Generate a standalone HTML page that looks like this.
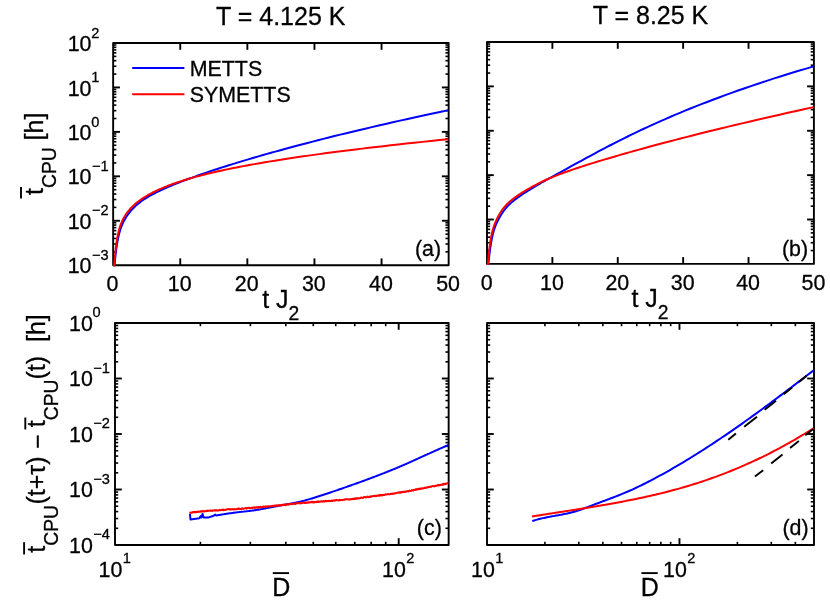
<!DOCTYPE html>
<html><head><meta charset="utf-8"><title>figure</title>
<style>html,body{margin:0;padding:0;background:#fff;}svg{display:block;}text{font-family:"Liberation Sans",sans-serif;white-space:pre;}</style></head>
<body>
<svg width="830" height="606" viewBox="0 0 830 606" font-family='"Liberation Sans", sans-serif' fill="#000">
<rect width="830" height="606" fill="#fff"/>
<rect x="113.15" y="43" width="335.5" height="222.2" fill="none" stroke="#000" stroke-width="1.9" stroke-linejoin="round"/>
<rect x="487" y="42" width="326.9" height="221.9" fill="none" stroke="#000" stroke-width="1.9" stroke-linejoin="round"/>
<rect x="115" y="323" width="333.65" height="222" fill="none" stroke="#000" stroke-width="1.9" stroke-linejoin="round"/>
<rect x="487" y="323" width="327" height="222" fill="none" stroke="#000" stroke-width="1.9" stroke-linejoin="round"/>
<line x1="113.15" y1="251.82" x2="116.35" y2="251.82" stroke="#000" stroke-width="1.6" />
<line x1="448.65" y1="251.82" x2="445.45" y2="251.82" stroke="#000" stroke-width="1.6" />
<line x1="113.15" y1="244" x2="116.35" y2="244" stroke="#000" stroke-width="1.6" />
<line x1="448.65" y1="244" x2="445.45" y2="244" stroke="#000" stroke-width="1.6" />
<line x1="113.15" y1="238.44" x2="116.35" y2="238.44" stroke="#000" stroke-width="1.6" />
<line x1="448.65" y1="238.44" x2="445.45" y2="238.44" stroke="#000" stroke-width="1.6" />
<line x1="113.15" y1="234.14" x2="116.35" y2="234.14" stroke="#000" stroke-width="1.6" />
<line x1="448.65" y1="234.14" x2="445.45" y2="234.14" stroke="#000" stroke-width="1.6" />
<line x1="113.15" y1="230.62" x2="116.35" y2="230.62" stroke="#000" stroke-width="1.6" />
<line x1="448.65" y1="230.62" x2="445.45" y2="230.62" stroke="#000" stroke-width="1.6" />
<line x1="113.15" y1="227.64" x2="116.35" y2="227.64" stroke="#000" stroke-width="1.6" />
<line x1="448.65" y1="227.64" x2="445.45" y2="227.64" stroke="#000" stroke-width="1.6" />
<line x1="113.15" y1="225.07" x2="116.35" y2="225.07" stroke="#000" stroke-width="1.6" />
<line x1="448.65" y1="225.07" x2="445.45" y2="225.07" stroke="#000" stroke-width="1.6" />
<line x1="113.15" y1="222.79" x2="116.35" y2="222.79" stroke="#000" stroke-width="1.6" />
<line x1="448.65" y1="222.79" x2="445.45" y2="222.79" stroke="#000" stroke-width="1.6" />
<line x1="113.15" y1="220.76" x2="119.95" y2="220.76" stroke="#000" stroke-width="1.9" />
<line x1="448.65" y1="220.76" x2="441.85" y2="220.76" stroke="#000" stroke-width="1.9" />
<line x1="113.15" y1="207.38" x2="116.35" y2="207.38" stroke="#000" stroke-width="1.6" />
<line x1="448.65" y1="207.38" x2="445.45" y2="207.38" stroke="#000" stroke-width="1.6" />
<line x1="113.15" y1="199.56" x2="116.35" y2="199.56" stroke="#000" stroke-width="1.6" />
<line x1="448.65" y1="199.56" x2="445.45" y2="199.56" stroke="#000" stroke-width="1.6" />
<line x1="113.15" y1="194" x2="116.35" y2="194" stroke="#000" stroke-width="1.6" />
<line x1="448.65" y1="194" x2="445.45" y2="194" stroke="#000" stroke-width="1.6" />
<line x1="113.15" y1="189.7" x2="116.35" y2="189.7" stroke="#000" stroke-width="1.6" />
<line x1="448.65" y1="189.7" x2="445.45" y2="189.7" stroke="#000" stroke-width="1.6" />
<line x1="113.15" y1="186.18" x2="116.35" y2="186.18" stroke="#000" stroke-width="1.6" />
<line x1="448.65" y1="186.18" x2="445.45" y2="186.18" stroke="#000" stroke-width="1.6" />
<line x1="113.15" y1="183.2" x2="116.35" y2="183.2" stroke="#000" stroke-width="1.6" />
<line x1="448.65" y1="183.2" x2="445.45" y2="183.2" stroke="#000" stroke-width="1.6" />
<line x1="113.15" y1="180.63" x2="116.35" y2="180.63" stroke="#000" stroke-width="1.6" />
<line x1="448.65" y1="180.63" x2="445.45" y2="180.63" stroke="#000" stroke-width="1.6" />
<line x1="113.15" y1="178.35" x2="116.35" y2="178.35" stroke="#000" stroke-width="1.6" />
<line x1="448.65" y1="178.35" x2="445.45" y2="178.35" stroke="#000" stroke-width="1.6" />
<line x1="113.15" y1="176.32" x2="119.95" y2="176.32" stroke="#000" stroke-width="1.9" />
<line x1="448.65" y1="176.32" x2="441.85" y2="176.32" stroke="#000" stroke-width="1.9" />
<line x1="113.15" y1="162.94" x2="116.35" y2="162.94" stroke="#000" stroke-width="1.6" />
<line x1="448.65" y1="162.94" x2="445.45" y2="162.94" stroke="#000" stroke-width="1.6" />
<line x1="113.15" y1="155.12" x2="116.35" y2="155.12" stroke="#000" stroke-width="1.6" />
<line x1="448.65" y1="155.12" x2="445.45" y2="155.12" stroke="#000" stroke-width="1.6" />
<line x1="113.15" y1="149.56" x2="116.35" y2="149.56" stroke="#000" stroke-width="1.6" />
<line x1="448.65" y1="149.56" x2="445.45" y2="149.56" stroke="#000" stroke-width="1.6" />
<line x1="113.15" y1="145.26" x2="116.35" y2="145.26" stroke="#000" stroke-width="1.6" />
<line x1="448.65" y1="145.26" x2="445.45" y2="145.26" stroke="#000" stroke-width="1.6" />
<line x1="113.15" y1="141.74" x2="116.35" y2="141.74" stroke="#000" stroke-width="1.6" />
<line x1="448.65" y1="141.74" x2="445.45" y2="141.74" stroke="#000" stroke-width="1.6" />
<line x1="113.15" y1="138.76" x2="116.35" y2="138.76" stroke="#000" stroke-width="1.6" />
<line x1="448.65" y1="138.76" x2="445.45" y2="138.76" stroke="#000" stroke-width="1.6" />
<line x1="113.15" y1="136.19" x2="116.35" y2="136.19" stroke="#000" stroke-width="1.6" />
<line x1="448.65" y1="136.19" x2="445.45" y2="136.19" stroke="#000" stroke-width="1.6" />
<line x1="113.15" y1="133.91" x2="116.35" y2="133.91" stroke="#000" stroke-width="1.6" />
<line x1="448.65" y1="133.91" x2="445.45" y2="133.91" stroke="#000" stroke-width="1.6" />
<line x1="113.15" y1="131.88" x2="119.95" y2="131.88" stroke="#000" stroke-width="1.9" />
<line x1="448.65" y1="131.88" x2="441.85" y2="131.88" stroke="#000" stroke-width="1.9" />
<line x1="113.15" y1="118.5" x2="116.35" y2="118.5" stroke="#000" stroke-width="1.6" />
<line x1="448.65" y1="118.5" x2="445.45" y2="118.5" stroke="#000" stroke-width="1.6" />
<line x1="113.15" y1="110.68" x2="116.35" y2="110.68" stroke="#000" stroke-width="1.6" />
<line x1="448.65" y1="110.68" x2="445.45" y2="110.68" stroke="#000" stroke-width="1.6" />
<line x1="113.15" y1="105.12" x2="116.35" y2="105.12" stroke="#000" stroke-width="1.6" />
<line x1="448.65" y1="105.12" x2="445.45" y2="105.12" stroke="#000" stroke-width="1.6" />
<line x1="113.15" y1="100.82" x2="116.35" y2="100.82" stroke="#000" stroke-width="1.6" />
<line x1="448.65" y1="100.82" x2="445.45" y2="100.82" stroke="#000" stroke-width="1.6" />
<line x1="113.15" y1="97.3" x2="116.35" y2="97.3" stroke="#000" stroke-width="1.6" />
<line x1="448.65" y1="97.3" x2="445.45" y2="97.3" stroke="#000" stroke-width="1.6" />
<line x1="113.15" y1="94.32" x2="116.35" y2="94.32" stroke="#000" stroke-width="1.6" />
<line x1="448.65" y1="94.32" x2="445.45" y2="94.32" stroke="#000" stroke-width="1.6" />
<line x1="113.15" y1="91.75" x2="116.35" y2="91.75" stroke="#000" stroke-width="1.6" />
<line x1="448.65" y1="91.75" x2="445.45" y2="91.75" stroke="#000" stroke-width="1.6" />
<line x1="113.15" y1="89.47" x2="116.35" y2="89.47" stroke="#000" stroke-width="1.6" />
<line x1="448.65" y1="89.47" x2="445.45" y2="89.47" stroke="#000" stroke-width="1.6" />
<line x1="113.15" y1="87.44" x2="119.95" y2="87.44" stroke="#000" stroke-width="1.9" />
<line x1="448.65" y1="87.44" x2="441.85" y2="87.44" stroke="#000" stroke-width="1.9" />
<line x1="113.15" y1="74.06" x2="116.35" y2="74.06" stroke="#000" stroke-width="1.6" />
<line x1="448.65" y1="74.06" x2="445.45" y2="74.06" stroke="#000" stroke-width="1.6" />
<line x1="113.15" y1="66.24" x2="116.35" y2="66.24" stroke="#000" stroke-width="1.6" />
<line x1="448.65" y1="66.24" x2="445.45" y2="66.24" stroke="#000" stroke-width="1.6" />
<line x1="113.15" y1="60.68" x2="116.35" y2="60.68" stroke="#000" stroke-width="1.6" />
<line x1="448.65" y1="60.68" x2="445.45" y2="60.68" stroke="#000" stroke-width="1.6" />
<line x1="113.15" y1="56.38" x2="116.35" y2="56.38" stroke="#000" stroke-width="1.6" />
<line x1="448.65" y1="56.38" x2="445.45" y2="56.38" stroke="#000" stroke-width="1.6" />
<line x1="113.15" y1="52.86" x2="116.35" y2="52.86" stroke="#000" stroke-width="1.6" />
<line x1="448.65" y1="52.86" x2="445.45" y2="52.86" stroke="#000" stroke-width="1.6" />
<line x1="113.15" y1="49.88" x2="116.35" y2="49.88" stroke="#000" stroke-width="1.6" />
<line x1="448.65" y1="49.88" x2="445.45" y2="49.88" stroke="#000" stroke-width="1.6" />
<line x1="113.15" y1="47.31" x2="116.35" y2="47.31" stroke="#000" stroke-width="1.6" />
<line x1="448.65" y1="47.31" x2="445.45" y2="47.31" stroke="#000" stroke-width="1.6" />
<line x1="113.15" y1="45.03" x2="116.35" y2="45.03" stroke="#000" stroke-width="1.6" />
<line x1="448.65" y1="45.03" x2="445.45" y2="45.03" stroke="#000" stroke-width="1.6" />
<line x1="487" y1="250.54" x2="490.2" y2="250.54" stroke="#000" stroke-width="1.6" />
<line x1="813.9" y1="250.54" x2="810.7" y2="250.54" stroke="#000" stroke-width="1.6" />
<line x1="487" y1="242.73" x2="490.2" y2="242.73" stroke="#000" stroke-width="1.6" />
<line x1="813.9" y1="242.73" x2="810.7" y2="242.73" stroke="#000" stroke-width="1.6" />
<line x1="487" y1="237.18" x2="490.2" y2="237.18" stroke="#000" stroke-width="1.6" />
<line x1="813.9" y1="237.18" x2="810.7" y2="237.18" stroke="#000" stroke-width="1.6" />
<line x1="487" y1="232.88" x2="490.2" y2="232.88" stroke="#000" stroke-width="1.6" />
<line x1="813.9" y1="232.88" x2="810.7" y2="232.88" stroke="#000" stroke-width="1.6" />
<line x1="487" y1="229.37" x2="490.2" y2="229.37" stroke="#000" stroke-width="1.6" />
<line x1="813.9" y1="229.37" x2="810.7" y2="229.37" stroke="#000" stroke-width="1.6" />
<line x1="487" y1="226.39" x2="490.2" y2="226.39" stroke="#000" stroke-width="1.6" />
<line x1="813.9" y1="226.39" x2="810.7" y2="226.39" stroke="#000" stroke-width="1.6" />
<line x1="487" y1="223.82" x2="490.2" y2="223.82" stroke="#000" stroke-width="1.6" />
<line x1="813.9" y1="223.82" x2="810.7" y2="223.82" stroke="#000" stroke-width="1.6" />
<line x1="487" y1="221.55" x2="490.2" y2="221.55" stroke="#000" stroke-width="1.6" />
<line x1="813.9" y1="221.55" x2="810.7" y2="221.55" stroke="#000" stroke-width="1.6" />
<line x1="487" y1="219.52" x2="493.8" y2="219.52" stroke="#000" stroke-width="1.9" />
<line x1="813.9" y1="219.52" x2="807.1" y2="219.52" stroke="#000" stroke-width="1.9" />
<line x1="487" y1="206.16" x2="490.2" y2="206.16" stroke="#000" stroke-width="1.6" />
<line x1="813.9" y1="206.16" x2="810.7" y2="206.16" stroke="#000" stroke-width="1.6" />
<line x1="487" y1="198.35" x2="490.2" y2="198.35" stroke="#000" stroke-width="1.6" />
<line x1="813.9" y1="198.35" x2="810.7" y2="198.35" stroke="#000" stroke-width="1.6" />
<line x1="487" y1="192.8" x2="490.2" y2="192.8" stroke="#000" stroke-width="1.6" />
<line x1="813.9" y1="192.8" x2="810.7" y2="192.8" stroke="#000" stroke-width="1.6" />
<line x1="487" y1="188.5" x2="490.2" y2="188.5" stroke="#000" stroke-width="1.6" />
<line x1="813.9" y1="188.5" x2="810.7" y2="188.5" stroke="#000" stroke-width="1.6" />
<line x1="487" y1="184.99" x2="490.2" y2="184.99" stroke="#000" stroke-width="1.6" />
<line x1="813.9" y1="184.99" x2="810.7" y2="184.99" stroke="#000" stroke-width="1.6" />
<line x1="487" y1="182.01" x2="490.2" y2="182.01" stroke="#000" stroke-width="1.6" />
<line x1="813.9" y1="182.01" x2="810.7" y2="182.01" stroke="#000" stroke-width="1.6" />
<line x1="487" y1="179.44" x2="490.2" y2="179.44" stroke="#000" stroke-width="1.6" />
<line x1="813.9" y1="179.44" x2="810.7" y2="179.44" stroke="#000" stroke-width="1.6" />
<line x1="487" y1="177.17" x2="490.2" y2="177.17" stroke="#000" stroke-width="1.6" />
<line x1="813.9" y1="177.17" x2="810.7" y2="177.17" stroke="#000" stroke-width="1.6" />
<line x1="487" y1="175.14" x2="493.8" y2="175.14" stroke="#000" stroke-width="1.9" />
<line x1="813.9" y1="175.14" x2="807.1" y2="175.14" stroke="#000" stroke-width="1.9" />
<line x1="487" y1="161.78" x2="490.2" y2="161.78" stroke="#000" stroke-width="1.6" />
<line x1="813.9" y1="161.78" x2="810.7" y2="161.78" stroke="#000" stroke-width="1.6" />
<line x1="487" y1="153.97" x2="490.2" y2="153.97" stroke="#000" stroke-width="1.6" />
<line x1="813.9" y1="153.97" x2="810.7" y2="153.97" stroke="#000" stroke-width="1.6" />
<line x1="487" y1="148.42" x2="490.2" y2="148.42" stroke="#000" stroke-width="1.6" />
<line x1="813.9" y1="148.42" x2="810.7" y2="148.42" stroke="#000" stroke-width="1.6" />
<line x1="487" y1="144.12" x2="490.2" y2="144.12" stroke="#000" stroke-width="1.6" />
<line x1="813.9" y1="144.12" x2="810.7" y2="144.12" stroke="#000" stroke-width="1.6" />
<line x1="487" y1="140.61" x2="490.2" y2="140.61" stroke="#000" stroke-width="1.6" />
<line x1="813.9" y1="140.61" x2="810.7" y2="140.61" stroke="#000" stroke-width="1.6" />
<line x1="487" y1="137.63" x2="490.2" y2="137.63" stroke="#000" stroke-width="1.6" />
<line x1="813.9" y1="137.63" x2="810.7" y2="137.63" stroke="#000" stroke-width="1.6" />
<line x1="487" y1="135.06" x2="490.2" y2="135.06" stroke="#000" stroke-width="1.6" />
<line x1="813.9" y1="135.06" x2="810.7" y2="135.06" stroke="#000" stroke-width="1.6" />
<line x1="487" y1="132.79" x2="490.2" y2="132.79" stroke="#000" stroke-width="1.6" />
<line x1="813.9" y1="132.79" x2="810.7" y2="132.79" stroke="#000" stroke-width="1.6" />
<line x1="487" y1="130.76" x2="493.8" y2="130.76" stroke="#000" stroke-width="1.9" />
<line x1="813.9" y1="130.76" x2="807.1" y2="130.76" stroke="#000" stroke-width="1.9" />
<line x1="487" y1="117.4" x2="490.2" y2="117.4" stroke="#000" stroke-width="1.6" />
<line x1="813.9" y1="117.4" x2="810.7" y2="117.4" stroke="#000" stroke-width="1.6" />
<line x1="487" y1="109.59" x2="490.2" y2="109.59" stroke="#000" stroke-width="1.6" />
<line x1="813.9" y1="109.59" x2="810.7" y2="109.59" stroke="#000" stroke-width="1.6" />
<line x1="487" y1="104.04" x2="490.2" y2="104.04" stroke="#000" stroke-width="1.6" />
<line x1="813.9" y1="104.04" x2="810.7" y2="104.04" stroke="#000" stroke-width="1.6" />
<line x1="487" y1="99.74" x2="490.2" y2="99.74" stroke="#000" stroke-width="1.6" />
<line x1="813.9" y1="99.74" x2="810.7" y2="99.74" stroke="#000" stroke-width="1.6" />
<line x1="487" y1="96.23" x2="490.2" y2="96.23" stroke="#000" stroke-width="1.6" />
<line x1="813.9" y1="96.23" x2="810.7" y2="96.23" stroke="#000" stroke-width="1.6" />
<line x1="487" y1="93.25" x2="490.2" y2="93.25" stroke="#000" stroke-width="1.6" />
<line x1="813.9" y1="93.25" x2="810.7" y2="93.25" stroke="#000" stroke-width="1.6" />
<line x1="487" y1="90.68" x2="490.2" y2="90.68" stroke="#000" stroke-width="1.6" />
<line x1="813.9" y1="90.68" x2="810.7" y2="90.68" stroke="#000" stroke-width="1.6" />
<line x1="487" y1="88.41" x2="490.2" y2="88.41" stroke="#000" stroke-width="1.6" />
<line x1="813.9" y1="88.41" x2="810.7" y2="88.41" stroke="#000" stroke-width="1.6" />
<line x1="487" y1="86.38" x2="493.8" y2="86.38" stroke="#000" stroke-width="1.9" />
<line x1="813.9" y1="86.38" x2="807.1" y2="86.38" stroke="#000" stroke-width="1.9" />
<line x1="487" y1="73.02" x2="490.2" y2="73.02" stroke="#000" stroke-width="1.6" />
<line x1="813.9" y1="73.02" x2="810.7" y2="73.02" stroke="#000" stroke-width="1.6" />
<line x1="487" y1="65.21" x2="490.2" y2="65.21" stroke="#000" stroke-width="1.6" />
<line x1="813.9" y1="65.21" x2="810.7" y2="65.21" stroke="#000" stroke-width="1.6" />
<line x1="487" y1="59.66" x2="490.2" y2="59.66" stroke="#000" stroke-width="1.6" />
<line x1="813.9" y1="59.66" x2="810.7" y2="59.66" stroke="#000" stroke-width="1.6" />
<line x1="487" y1="55.36" x2="490.2" y2="55.36" stroke="#000" stroke-width="1.6" />
<line x1="813.9" y1="55.36" x2="810.7" y2="55.36" stroke="#000" stroke-width="1.6" />
<line x1="487" y1="51.85" x2="490.2" y2="51.85" stroke="#000" stroke-width="1.6" />
<line x1="813.9" y1="51.85" x2="810.7" y2="51.85" stroke="#000" stroke-width="1.6" />
<line x1="487" y1="48.87" x2="490.2" y2="48.87" stroke="#000" stroke-width="1.6" />
<line x1="813.9" y1="48.87" x2="810.7" y2="48.87" stroke="#000" stroke-width="1.6" />
<line x1="487" y1="46.3" x2="490.2" y2="46.3" stroke="#000" stroke-width="1.6" />
<line x1="813.9" y1="46.3" x2="810.7" y2="46.3" stroke="#000" stroke-width="1.6" />
<line x1="487" y1="44.03" x2="490.2" y2="44.03" stroke="#000" stroke-width="1.6" />
<line x1="813.9" y1="44.03" x2="810.7" y2="44.03" stroke="#000" stroke-width="1.6" />
<line x1="115" y1="528.29" x2="118.2" y2="528.29" stroke="#000" stroke-width="1.6" />
<line x1="448.65" y1="528.29" x2="445.45" y2="528.29" stroke="#000" stroke-width="1.6" />
<line x1="115" y1="518.52" x2="118.2" y2="518.52" stroke="#000" stroke-width="1.6" />
<line x1="448.65" y1="518.52" x2="445.45" y2="518.52" stroke="#000" stroke-width="1.6" />
<line x1="115" y1="511.59" x2="118.2" y2="511.59" stroke="#000" stroke-width="1.6" />
<line x1="448.65" y1="511.59" x2="445.45" y2="511.59" stroke="#000" stroke-width="1.6" />
<line x1="115" y1="506.21" x2="118.2" y2="506.21" stroke="#000" stroke-width="1.6" />
<line x1="448.65" y1="506.21" x2="445.45" y2="506.21" stroke="#000" stroke-width="1.6" />
<line x1="115" y1="501.81" x2="118.2" y2="501.81" stroke="#000" stroke-width="1.6" />
<line x1="448.65" y1="501.81" x2="445.45" y2="501.81" stroke="#000" stroke-width="1.6" />
<line x1="115" y1="498.1" x2="118.2" y2="498.1" stroke="#000" stroke-width="1.6" />
<line x1="448.65" y1="498.1" x2="445.45" y2="498.1" stroke="#000" stroke-width="1.6" />
<line x1="115" y1="494.88" x2="118.2" y2="494.88" stroke="#000" stroke-width="1.6" />
<line x1="448.65" y1="494.88" x2="445.45" y2="494.88" stroke="#000" stroke-width="1.6" />
<line x1="115" y1="492.04" x2="118.2" y2="492.04" stroke="#000" stroke-width="1.6" />
<line x1="448.65" y1="492.04" x2="445.45" y2="492.04" stroke="#000" stroke-width="1.6" />
<line x1="115" y1="489.5" x2="121.8" y2="489.5" stroke="#000" stroke-width="1.9" />
<line x1="448.65" y1="489.5" x2="441.85" y2="489.5" stroke="#000" stroke-width="1.9" />
<line x1="115" y1="472.79" x2="118.2" y2="472.79" stroke="#000" stroke-width="1.6" />
<line x1="448.65" y1="472.79" x2="445.45" y2="472.79" stroke="#000" stroke-width="1.6" />
<line x1="115" y1="463.02" x2="118.2" y2="463.02" stroke="#000" stroke-width="1.6" />
<line x1="448.65" y1="463.02" x2="445.45" y2="463.02" stroke="#000" stroke-width="1.6" />
<line x1="115" y1="456.09" x2="118.2" y2="456.09" stroke="#000" stroke-width="1.6" />
<line x1="448.65" y1="456.09" x2="445.45" y2="456.09" stroke="#000" stroke-width="1.6" />
<line x1="115" y1="450.71" x2="118.2" y2="450.71" stroke="#000" stroke-width="1.6" />
<line x1="448.65" y1="450.71" x2="445.45" y2="450.71" stroke="#000" stroke-width="1.6" />
<line x1="115" y1="446.31" x2="118.2" y2="446.31" stroke="#000" stroke-width="1.6" />
<line x1="448.65" y1="446.31" x2="445.45" y2="446.31" stroke="#000" stroke-width="1.6" />
<line x1="115" y1="442.6" x2="118.2" y2="442.6" stroke="#000" stroke-width="1.6" />
<line x1="448.65" y1="442.6" x2="445.45" y2="442.6" stroke="#000" stroke-width="1.6" />
<line x1="115" y1="439.38" x2="118.2" y2="439.38" stroke="#000" stroke-width="1.6" />
<line x1="448.65" y1="439.38" x2="445.45" y2="439.38" stroke="#000" stroke-width="1.6" />
<line x1="115" y1="436.54" x2="118.2" y2="436.54" stroke="#000" stroke-width="1.6" />
<line x1="448.65" y1="436.54" x2="445.45" y2="436.54" stroke="#000" stroke-width="1.6" />
<line x1="115" y1="434" x2="121.8" y2="434" stroke="#000" stroke-width="1.9" />
<line x1="448.65" y1="434" x2="441.85" y2="434" stroke="#000" stroke-width="1.9" />
<line x1="115" y1="417.29" x2="118.2" y2="417.29" stroke="#000" stroke-width="1.6" />
<line x1="448.65" y1="417.29" x2="445.45" y2="417.29" stroke="#000" stroke-width="1.6" />
<line x1="115" y1="407.52" x2="118.2" y2="407.52" stroke="#000" stroke-width="1.6" />
<line x1="448.65" y1="407.52" x2="445.45" y2="407.52" stroke="#000" stroke-width="1.6" />
<line x1="115" y1="400.59" x2="118.2" y2="400.59" stroke="#000" stroke-width="1.6" />
<line x1="448.65" y1="400.59" x2="445.45" y2="400.59" stroke="#000" stroke-width="1.6" />
<line x1="115" y1="395.21" x2="118.2" y2="395.21" stroke="#000" stroke-width="1.6" />
<line x1="448.65" y1="395.21" x2="445.45" y2="395.21" stroke="#000" stroke-width="1.6" />
<line x1="115" y1="390.81" x2="118.2" y2="390.81" stroke="#000" stroke-width="1.6" />
<line x1="448.65" y1="390.81" x2="445.45" y2="390.81" stroke="#000" stroke-width="1.6" />
<line x1="115" y1="387.1" x2="118.2" y2="387.1" stroke="#000" stroke-width="1.6" />
<line x1="448.65" y1="387.1" x2="445.45" y2="387.1" stroke="#000" stroke-width="1.6" />
<line x1="115" y1="383.88" x2="118.2" y2="383.88" stroke="#000" stroke-width="1.6" />
<line x1="448.65" y1="383.88" x2="445.45" y2="383.88" stroke="#000" stroke-width="1.6" />
<line x1="115" y1="381.04" x2="118.2" y2="381.04" stroke="#000" stroke-width="1.6" />
<line x1="448.65" y1="381.04" x2="445.45" y2="381.04" stroke="#000" stroke-width="1.6" />
<line x1="115" y1="378.5" x2="121.8" y2="378.5" stroke="#000" stroke-width="1.9" />
<line x1="448.65" y1="378.5" x2="441.85" y2="378.5" stroke="#000" stroke-width="1.9" />
<line x1="115" y1="361.79" x2="118.2" y2="361.79" stroke="#000" stroke-width="1.6" />
<line x1="448.65" y1="361.79" x2="445.45" y2="361.79" stroke="#000" stroke-width="1.6" />
<line x1="115" y1="352.02" x2="118.2" y2="352.02" stroke="#000" stroke-width="1.6" />
<line x1="448.65" y1="352.02" x2="445.45" y2="352.02" stroke="#000" stroke-width="1.6" />
<line x1="115" y1="345.09" x2="118.2" y2="345.09" stroke="#000" stroke-width="1.6" />
<line x1="448.65" y1="345.09" x2="445.45" y2="345.09" stroke="#000" stroke-width="1.6" />
<line x1="115" y1="339.71" x2="118.2" y2="339.71" stroke="#000" stroke-width="1.6" />
<line x1="448.65" y1="339.71" x2="445.45" y2="339.71" stroke="#000" stroke-width="1.6" />
<line x1="115" y1="335.31" x2="118.2" y2="335.31" stroke="#000" stroke-width="1.6" />
<line x1="448.65" y1="335.31" x2="445.45" y2="335.31" stroke="#000" stroke-width="1.6" />
<line x1="115" y1="331.6" x2="118.2" y2="331.6" stroke="#000" stroke-width="1.6" />
<line x1="448.65" y1="331.6" x2="445.45" y2="331.6" stroke="#000" stroke-width="1.6" />
<line x1="115" y1="328.38" x2="118.2" y2="328.38" stroke="#000" stroke-width="1.6" />
<line x1="448.65" y1="328.38" x2="445.45" y2="328.38" stroke="#000" stroke-width="1.6" />
<line x1="115" y1="325.54" x2="118.2" y2="325.54" stroke="#000" stroke-width="1.6" />
<line x1="448.65" y1="325.54" x2="445.45" y2="325.54" stroke="#000" stroke-width="1.6" />
<line x1="487" y1="528.29" x2="490.2" y2="528.29" stroke="#000" stroke-width="1.6" />
<line x1="814" y1="528.29" x2="810.8" y2="528.29" stroke="#000" stroke-width="1.6" />
<line x1="487" y1="518.52" x2="490.2" y2="518.52" stroke="#000" stroke-width="1.6" />
<line x1="814" y1="518.52" x2="810.8" y2="518.52" stroke="#000" stroke-width="1.6" />
<line x1="487" y1="511.59" x2="490.2" y2="511.59" stroke="#000" stroke-width="1.6" />
<line x1="814" y1="511.59" x2="810.8" y2="511.59" stroke="#000" stroke-width="1.6" />
<line x1="487" y1="506.21" x2="490.2" y2="506.21" stroke="#000" stroke-width="1.6" />
<line x1="814" y1="506.21" x2="810.8" y2="506.21" stroke="#000" stroke-width="1.6" />
<line x1="487" y1="501.81" x2="490.2" y2="501.81" stroke="#000" stroke-width="1.6" />
<line x1="814" y1="501.81" x2="810.8" y2="501.81" stroke="#000" stroke-width="1.6" />
<line x1="487" y1="498.1" x2="490.2" y2="498.1" stroke="#000" stroke-width="1.6" />
<line x1="814" y1="498.1" x2="810.8" y2="498.1" stroke="#000" stroke-width="1.6" />
<line x1="487" y1="494.88" x2="490.2" y2="494.88" stroke="#000" stroke-width="1.6" />
<line x1="814" y1="494.88" x2="810.8" y2="494.88" stroke="#000" stroke-width="1.6" />
<line x1="487" y1="492.04" x2="490.2" y2="492.04" stroke="#000" stroke-width="1.6" />
<line x1="814" y1="492.04" x2="810.8" y2="492.04" stroke="#000" stroke-width="1.6" />
<line x1="487" y1="489.5" x2="493.8" y2="489.5" stroke="#000" stroke-width="1.9" />
<line x1="814" y1="489.5" x2="807.2" y2="489.5" stroke="#000" stroke-width="1.9" />
<line x1="487" y1="472.79" x2="490.2" y2="472.79" stroke="#000" stroke-width="1.6" />
<line x1="814" y1="472.79" x2="810.8" y2="472.79" stroke="#000" stroke-width="1.6" />
<line x1="487" y1="463.02" x2="490.2" y2="463.02" stroke="#000" stroke-width="1.6" />
<line x1="814" y1="463.02" x2="810.8" y2="463.02" stroke="#000" stroke-width="1.6" />
<line x1="487" y1="456.09" x2="490.2" y2="456.09" stroke="#000" stroke-width="1.6" />
<line x1="814" y1="456.09" x2="810.8" y2="456.09" stroke="#000" stroke-width="1.6" />
<line x1="487" y1="450.71" x2="490.2" y2="450.71" stroke="#000" stroke-width="1.6" />
<line x1="814" y1="450.71" x2="810.8" y2="450.71" stroke="#000" stroke-width="1.6" />
<line x1="487" y1="446.31" x2="490.2" y2="446.31" stroke="#000" stroke-width="1.6" />
<line x1="814" y1="446.31" x2="810.8" y2="446.31" stroke="#000" stroke-width="1.6" />
<line x1="487" y1="442.6" x2="490.2" y2="442.6" stroke="#000" stroke-width="1.6" />
<line x1="814" y1="442.6" x2="810.8" y2="442.6" stroke="#000" stroke-width="1.6" />
<line x1="487" y1="439.38" x2="490.2" y2="439.38" stroke="#000" stroke-width="1.6" />
<line x1="814" y1="439.38" x2="810.8" y2="439.38" stroke="#000" stroke-width="1.6" />
<line x1="487" y1="436.54" x2="490.2" y2="436.54" stroke="#000" stroke-width="1.6" />
<line x1="814" y1="436.54" x2="810.8" y2="436.54" stroke="#000" stroke-width="1.6" />
<line x1="487" y1="434" x2="493.8" y2="434" stroke="#000" stroke-width="1.9" />
<line x1="814" y1="434" x2="807.2" y2="434" stroke="#000" stroke-width="1.9" />
<line x1="487" y1="417.29" x2="490.2" y2="417.29" stroke="#000" stroke-width="1.6" />
<line x1="814" y1="417.29" x2="810.8" y2="417.29" stroke="#000" stroke-width="1.6" />
<line x1="487" y1="407.52" x2="490.2" y2="407.52" stroke="#000" stroke-width="1.6" />
<line x1="814" y1="407.52" x2="810.8" y2="407.52" stroke="#000" stroke-width="1.6" />
<line x1="487" y1="400.59" x2="490.2" y2="400.59" stroke="#000" stroke-width="1.6" />
<line x1="814" y1="400.59" x2="810.8" y2="400.59" stroke="#000" stroke-width="1.6" />
<line x1="487" y1="395.21" x2="490.2" y2="395.21" stroke="#000" stroke-width="1.6" />
<line x1="814" y1="395.21" x2="810.8" y2="395.21" stroke="#000" stroke-width="1.6" />
<line x1="487" y1="390.81" x2="490.2" y2="390.81" stroke="#000" stroke-width="1.6" />
<line x1="814" y1="390.81" x2="810.8" y2="390.81" stroke="#000" stroke-width="1.6" />
<line x1="487" y1="387.1" x2="490.2" y2="387.1" stroke="#000" stroke-width="1.6" />
<line x1="814" y1="387.1" x2="810.8" y2="387.1" stroke="#000" stroke-width="1.6" />
<line x1="487" y1="383.88" x2="490.2" y2="383.88" stroke="#000" stroke-width="1.6" />
<line x1="814" y1="383.88" x2="810.8" y2="383.88" stroke="#000" stroke-width="1.6" />
<line x1="487" y1="381.04" x2="490.2" y2="381.04" stroke="#000" stroke-width="1.6" />
<line x1="814" y1="381.04" x2="810.8" y2="381.04" stroke="#000" stroke-width="1.6" />
<line x1="487" y1="378.5" x2="493.8" y2="378.5" stroke="#000" stroke-width="1.9" />
<line x1="814" y1="378.5" x2="807.2" y2="378.5" stroke="#000" stroke-width="1.9" />
<line x1="487" y1="361.79" x2="490.2" y2="361.79" stroke="#000" stroke-width="1.6" />
<line x1="814" y1="361.79" x2="810.8" y2="361.79" stroke="#000" stroke-width="1.6" />
<line x1="487" y1="352.02" x2="490.2" y2="352.02" stroke="#000" stroke-width="1.6" />
<line x1="814" y1="352.02" x2="810.8" y2="352.02" stroke="#000" stroke-width="1.6" />
<line x1="487" y1="345.09" x2="490.2" y2="345.09" stroke="#000" stroke-width="1.6" />
<line x1="814" y1="345.09" x2="810.8" y2="345.09" stroke="#000" stroke-width="1.6" />
<line x1="487" y1="339.71" x2="490.2" y2="339.71" stroke="#000" stroke-width="1.6" />
<line x1="814" y1="339.71" x2="810.8" y2="339.71" stroke="#000" stroke-width="1.6" />
<line x1="487" y1="335.31" x2="490.2" y2="335.31" stroke="#000" stroke-width="1.6" />
<line x1="814" y1="335.31" x2="810.8" y2="335.31" stroke="#000" stroke-width="1.6" />
<line x1="487" y1="331.6" x2="490.2" y2="331.6" stroke="#000" stroke-width="1.6" />
<line x1="814" y1="331.6" x2="810.8" y2="331.6" stroke="#000" stroke-width="1.6" />
<line x1="487" y1="328.38" x2="490.2" y2="328.38" stroke="#000" stroke-width="1.6" />
<line x1="814" y1="328.38" x2="810.8" y2="328.38" stroke="#000" stroke-width="1.6" />
<line x1="487" y1="325.54" x2="490.2" y2="325.54" stroke="#000" stroke-width="1.6" />
<line x1="814" y1="325.54" x2="810.8" y2="325.54" stroke="#000" stroke-width="1.6" />
<line x1="180.25" y1="265.2" x2="180.25" y2="258.4" stroke="#000" stroke-width="1.9" />
<line x1="180.25" y1="43" x2="180.25" y2="49.8" stroke="#000" stroke-width="1.9" />
<line x1="247.35" y1="265.2" x2="247.35" y2="258.4" stroke="#000" stroke-width="1.9" />
<line x1="247.35" y1="43" x2="247.35" y2="49.8" stroke="#000" stroke-width="1.9" />
<line x1="314.45" y1="265.2" x2="314.45" y2="258.4" stroke="#000" stroke-width="1.9" />
<line x1="314.45" y1="43" x2="314.45" y2="49.8" stroke="#000" stroke-width="1.9" />
<line x1="381.55" y1="265.2" x2="381.55" y2="258.4" stroke="#000" stroke-width="1.9" />
<line x1="381.55" y1="43" x2="381.55" y2="49.8" stroke="#000" stroke-width="1.9" />
<line x1="552.38" y1="263.9" x2="552.38" y2="257.1" stroke="#000" stroke-width="1.9" />
<line x1="552.38" y1="42" x2="552.38" y2="48.8" stroke="#000" stroke-width="1.9" />
<line x1="617.76" y1="263.9" x2="617.76" y2="257.1" stroke="#000" stroke-width="1.9" />
<line x1="617.76" y1="42" x2="617.76" y2="48.8" stroke="#000" stroke-width="1.9" />
<line x1="683.14" y1="263.9" x2="683.14" y2="257.1" stroke="#000" stroke-width="1.9" />
<line x1="683.14" y1="42" x2="683.14" y2="48.8" stroke="#000" stroke-width="1.9" />
<line x1="748.52" y1="263.9" x2="748.52" y2="257.1" stroke="#000" stroke-width="1.9" />
<line x1="748.52" y1="42" x2="748.52" y2="48.8" stroke="#000" stroke-width="1.9" />
<line x1="200.4" y1="545" x2="200.4" y2="541.8" stroke="#000" stroke-width="1.6" />
<line x1="200.4" y1="323" x2="200.4" y2="326.2" stroke="#000" stroke-width="1.6" />
<line x1="250.36" y1="545" x2="250.36" y2="541.8" stroke="#000" stroke-width="1.6" />
<line x1="250.36" y1="323" x2="250.36" y2="326.2" stroke="#000" stroke-width="1.6" />
<line x1="285.8" y1="545" x2="285.8" y2="541.8" stroke="#000" stroke-width="1.6" />
<line x1="285.8" y1="323" x2="285.8" y2="326.2" stroke="#000" stroke-width="1.6" />
<line x1="313.29" y1="545" x2="313.29" y2="541.8" stroke="#000" stroke-width="1.6" />
<line x1="313.29" y1="323" x2="313.29" y2="326.2" stroke="#000" stroke-width="1.6" />
<line x1="335.76" y1="545" x2="335.76" y2="541.8" stroke="#000" stroke-width="1.6" />
<line x1="335.76" y1="323" x2="335.76" y2="326.2" stroke="#000" stroke-width="1.6" />
<line x1="354.75" y1="545" x2="354.75" y2="541.8" stroke="#000" stroke-width="1.6" />
<line x1="354.75" y1="323" x2="354.75" y2="326.2" stroke="#000" stroke-width="1.6" />
<line x1="371.2" y1="545" x2="371.2" y2="541.8" stroke="#000" stroke-width="1.6" />
<line x1="371.2" y1="323" x2="371.2" y2="326.2" stroke="#000" stroke-width="1.6" />
<line x1="385.71" y1="545" x2="385.71" y2="541.8" stroke="#000" stroke-width="1.6" />
<line x1="385.71" y1="323" x2="385.71" y2="326.2" stroke="#000" stroke-width="1.6" />
<line x1="398.69" y1="545" x2="398.69" y2="538.2" stroke="#000" stroke-width="1.9" />
<line x1="398.69" y1="323" x2="398.69" y2="329.8" stroke="#000" stroke-width="1.9" />
<line x1="544.94" y1="545" x2="544.94" y2="541.8" stroke="#000" stroke-width="1.6" />
<line x1="544.94" y1="323" x2="544.94" y2="326.2" stroke="#000" stroke-width="1.6" />
<line x1="578.83" y1="545" x2="578.83" y2="541.8" stroke="#000" stroke-width="1.6" />
<line x1="578.83" y1="323" x2="578.83" y2="326.2" stroke="#000" stroke-width="1.6" />
<line x1="602.88" y1="545" x2="602.88" y2="541.8" stroke="#000" stroke-width="1.6" />
<line x1="602.88" y1="323" x2="602.88" y2="326.2" stroke="#000" stroke-width="1.6" />
<line x1="621.53" y1="545" x2="621.53" y2="541.8" stroke="#000" stroke-width="1.6" />
<line x1="621.53" y1="323" x2="621.53" y2="326.2" stroke="#000" stroke-width="1.6" />
<line x1="636.77" y1="545" x2="636.77" y2="541.8" stroke="#000" stroke-width="1.6" />
<line x1="636.77" y1="323" x2="636.77" y2="326.2" stroke="#000" stroke-width="1.6" />
<line x1="649.66" y1="545" x2="649.66" y2="541.8" stroke="#000" stroke-width="1.6" />
<line x1="649.66" y1="323" x2="649.66" y2="326.2" stroke="#000" stroke-width="1.6" />
<line x1="660.82" y1="545" x2="660.82" y2="541.8" stroke="#000" stroke-width="1.6" />
<line x1="660.82" y1="323" x2="660.82" y2="326.2" stroke="#000" stroke-width="1.6" />
<line x1="670.66" y1="545" x2="670.66" y2="541.8" stroke="#000" stroke-width="1.6" />
<line x1="670.66" y1="323" x2="670.66" y2="326.2" stroke="#000" stroke-width="1.6" />
<line x1="679.47" y1="545" x2="679.47" y2="538.2" stroke="#000" stroke-width="1.9" />
<line x1="679.47" y1="323" x2="679.47" y2="329.8" stroke="#000" stroke-width="1.9" />
<line x1="737.41" y1="545" x2="737.41" y2="541.8" stroke="#000" stroke-width="1.6" />
<line x1="737.41" y1="323" x2="737.41" y2="326.2" stroke="#000" stroke-width="1.6" />
<line x1="771.3" y1="545" x2="771.3" y2="541.8" stroke="#000" stroke-width="1.6" />
<line x1="771.3" y1="323" x2="771.3" y2="326.2" stroke="#000" stroke-width="1.6" />
<line x1="795.35" y1="545" x2="795.35" y2="541.8" stroke="#000" stroke-width="1.6" />
<line x1="795.35" y1="323" x2="795.35" y2="326.2" stroke="#000" stroke-width="1.6" />
<clipPath id="cpa"><rect x="112.15" y="42" width="337.5" height="224.2"/></clipPath>
<clipPath id="cpb"><rect x="486" y="41" width="328.9" height="223.9"/></clipPath>
<clipPath id="cpc"><rect x="114" y="322" width="335.65" height="224"/></clipPath>
<clipPath id="cpd"><rect x="486" y="322" width="329" height="224"/></clipPath>
<g clip-path="url(#cpa)">
<path d="M114.29 267.95 L114.32 267.58 L114.35 267.21 L114.38 266.84 L114.41 266.47 L114.44 266.1 L114.48 265.73 L114.51 265.36 L114.55 264.98 L114.59 264.6 L114.62 264.19 L114.66 263.78 L114.7 263.36 L114.74 262.93 L114.79 262.49 L114.83 262.04 L114.87 261.58 L114.92 261.12 L114.96 260.64 L115.01 260.16 L115.06 259.66 L115.11 259.16 L115.16 258.66 L115.22 258.14 L115.27 257.62 L115.33 257.09 L115.38 256.55 L115.44 256.01 L115.5 255.46 L115.56 254.91 L115.63 254.35 L115.69 253.78 L115.76 253.21 L115.83 252.64 L115.9 252.06 L115.97 251.47 L116.05 250.88 L116.12 250.29 L116.2 249.7 L116.28 249.1 L116.36 248.49 L116.45 247.89 L116.53 247.28 L116.62 246.67 L116.71 246.06 L116.81 245.44 L116.9 244.83 L117 244.21 L117.11 243.59 L117.21 242.97 L117.32 242.35 L117.43 241.73 L117.54 241.11 L117.65 240.49 L117.77 239.87 L117.89 239.25 L118.02 238.63 L118.15 238.01 L118.28 237.39 L118.41 236.78 L118.55 236.16 L118.69 235.55 L118.84 234.94 L118.99 234.33 L119.14 233.73 L119.3 233.13 L119.46 232.53 L119.63 231.94 L119.8 231.35 L119.97 230.76 L120.15 230.18 L120.34 229.6 L120.53 229.03 L120.72 228.46 L120.92 227.89 L121.12 227.33 L121.33 226.77 L121.55 226.21 L121.77 225.66 L122 225.11 L122.23 224.57 L122.47 224.02 L122.71 223.48 L122.96 222.94 L123.22 222.4 L123.49 221.86 L123.76 221.33 L124.04 220.8 L124.32 220.26 L124.62 219.73 L124.92 219.2 L125.23 218.67 L125.55 218.14 L125.87 217.61 L126.21 217.08 L126.55 216.55 L126.9 216.03 L127.27 215.49 L127.64 214.96 L128.02 214.43 L128.41 213.9 L128.81 213.37 L129.22 212.83 L129.65 212.29 L130.08 211.76 L130.53 211.22 L130.98 210.68 L131.45 210.15 L131.93 209.61 L132.43 209.07 L132.93 208.53 L133.45 207.99 L133.99 207.46 L134.54 206.92 L135.1 206.38 L135.68 205.84 L136.27 205.3 L136.88 204.77 L137.5 204.23 L138.14 203.69 L138.8 203.16 L139.47 202.62 L140.17 202.09 L140.88 201.55 L141.61 201.02 L142.36 200.49 L143.12 199.96 L143.91 199.43 L144.72 198.9 L145.55 198.37 L146.41 197.84 L147.28 197.31 L148.18 196.78 L149.1 196.24 L150.04 195.71 L151.02 195.17 L152.01 194.63 L153.03 194.08 L154.08 193.54 L155.16 192.99 L156.26 192.43 L157.4 191.87 L158.56 191.31 L159.76 190.74 L160.98 190.16 L162.24 189.58 L163.53 189 L164.86 188.4 L166.22 187.81 L167.62 187.2 L169.05 186.59 L170.52 185.96 L172.03 185.34 L173.58 184.7 L175.17 184.05 L176.8 183.4 L178.47 182.74 L180.19 182.06 L181.95 181.38 L183.76 180.69 L185.62 179.99 L187.53 179.28 L189.48 178.55 L191.49 177.82 L193.55 177.07 L195.67 176.32 L197.84 175.55 L200.07 174.77 L202.35 173.97 L204.7 173.17 L207.11 172.35 L209.58 171.51 L212.12 170.67 L214.72 169.81 L217.39 168.93 L220.13 168.04 L222.95 167.14 L225.84 166.22 L228.8 165.29 L231.84 164.34 L234.97 163.37 L238.17 162.39 L241.46 161.39 L244.83 160.37 L248.3 159.34 L251.85 158.29 L255.5 157.22 L259.25 156.14 L263.09 155.03 L267.03 153.91 L271.08 152.77 L275.24 151.61 L279.5 150.43 L283.88 149.23 L288.37 148.01 L292.98 146.77 L297.71 145.51 L302.56 144.23 L307.54 142.92 L312.66 141.6 L317.91 140.25 L323.29 138.88 L328.82 137.49 L334.49 136.08 L340.32 134.64 L346.29 133.18 L352.43 131.7 L358.72 130.19 L365.18 128.66 L371.81 127.11 L378.61 125.53 L385.6 123.92 L392.76 122.29 L400.12 120.63 L407.67 118.95 L415.42 117.24 L423.37 115.51 L431.53 113.75 L439.9 111.96 L448.5 110.14" fill="none" stroke="#0000ff" stroke-width="2" stroke-linejoin="round" />
<path d="M114.03 267.93 L114.05 267.56 L114.08 267.19 L114.1 266.83 L114.13 266.46 L114.16 266.09 L114.18 265.73 L114.21 265.36 L114.24 264.98 L114.27 264.59 L114.3 264.2 L114.33 263.79 L114.37 263.37 L114.4 262.94 L114.43 262.5 L114.47 262.05 L114.5 261.59 L114.54 261.13 L114.58 260.65 L114.62 260.17 L114.66 259.68 L114.7 259.18 L114.74 258.67 L114.79 258.15 L114.83 257.63 L114.88 257.1 L114.92 256.57 L114.97 256.03 L115.02 255.48 L115.07 254.92 L115.13 254.36 L115.18 253.8 L115.24 253.23 L115.29 252.65 L115.35 252.07 L115.41 251.49 L115.48 250.9 L115.54 250.3 L115.6 249.71 L115.67 249.11 L115.74 248.5 L115.81 247.89 L115.88 247.29 L115.96 246.67 L116.04 246.06 L116.12 245.44 L116.2 244.83 L116.28 244.21 L116.37 243.58 L116.45 242.96 L116.54 242.34 L116.64 241.72 L116.73 241.09 L116.83 240.47 L116.93 239.85 L117.04 239.23 L117.14 238.6 L117.25 237.98 L117.36 237.36 L117.48 236.74 L117.6 236.13 L117.72 235.51 L117.84 234.9 L117.97 234.29 L118.11 233.68 L118.24 233.08 L118.38 232.48 L118.52 231.88 L118.67 231.28 L118.82 230.69 L118.98 230.11 L119.14 229.53 L119.3 228.95 L119.47 228.38 L119.64 227.81 L119.82 227.24 L120 226.68 L120.19 226.12 L120.38 225.56 L120.58 225.01 L120.78 224.46 L120.99 223.91 L121.21 223.37 L121.43 222.83 L121.66 222.29 L121.89 221.75 L122.13 221.22 L122.37 220.68 L122.63 220.15 L122.89 219.63 L123.15 219.1 L123.43 218.57 L123.71 218.05 L124 217.53 L124.29 217.01 L124.6 216.49 L124.91 215.97 L125.24 215.45 L125.57 214.93 L125.91 214.41 L126.26 213.9 L126.62 213.38 L126.98 212.86 L127.36 212.35 L127.75 211.83 L128.15 211.32 L128.56 210.8 L128.98 210.29 L129.42 209.78 L129.86 209.26 L130.32 208.75 L130.79 208.23 L131.28 207.72 L131.77 207.21 L132.28 206.7 L132.81 206.18 L133.34 205.67 L133.9 205.16 L134.46 204.64 L135.05 204.13 L135.65 203.61 L136.26 203.1 L136.9 202.58 L137.55 202.07 L138.22 201.55 L138.9 201.03 L139.61 200.51 L140.33 199.99 L141.08 199.46 L141.84 198.94 L142.63 198.41 L143.43 197.88 L144.26 197.35 L145.12 196.82 L145.99 196.29 L146.89 195.75 L147.81 195.21 L148.76 194.67 L149.74 194.13 L150.74 193.59 L151.77 193.05 L152.83 192.5 L153.91 191.95 L155.03 191.4 L156.18 190.84 L157.36 190.29 L158.57 189.73 L159.81 189.17 L161.09 188.61 L162.4 188.05 L163.75 187.48 L165.14 186.91 L166.56 186.34 L168.02 185.77 L169.53 185.19 L171.07 184.62 L172.66 184.04 L174.28 183.46 L175.96 182.87 L177.68 182.29 L179.45 181.7 L181.26 181.11 L183.13 180.51 L185.04 179.92 L187.01 179.32 L189.03 178.72 L191.11 178.11 L193.25 177.51 L195.44 176.9 L197.7 176.29 L200.01 175.67 L202.39 175.06 L204.83 174.44 L207.34 173.82 L209.92 173.19 L212.57 172.57 L215.3 171.94 L218.09 171.3 L220.97 170.67 L223.92 170.03 L226.95 169.39 L230.07 168.74 L233.27 168.09 L236.56 167.44 L239.94 166.79 L243.41 166.13 L246.98 165.46 L250.65 164.79 L254.41 164.12 L258.28 163.44 L262.26 162.76 L266.34 162.07 L270.53 161.38 L274.84 160.68 L279.27 159.97 L283.82 159.26 L288.5 158.55 L293.3 157.83 L298.23 157.1 L303.3 156.36 L308.51 155.62 L313.86 154.87 L319.35 154.12 L325 153.36 L330.8 152.59 L336.76 151.81 L342.89 151.03 L349.18 150.24 L355.64 149.44 L362.28 148.63 L369.1 147.82 L376.11 146.99 L383.32 146.16 L390.71 145.32 L398.32 144.47 L406.13 143.61 L414.15 142.75 L422.39 141.87 L430.86 140.98 L439.56 140.09 L448.5 139.18" fill="none" stroke="#ff0000" stroke-width="2" stroke-linejoin="round" />
</g>
<g clip-path="url(#cpb)">
<path d="M487.78 266.77 L487.8 266.61 L487.83 266.45 L487.85 266.3 L487.87 266.14 L487.89 265.98 L487.92 265.82 L487.94 265.66 L487.97 265.5 L487.99 265.35 L488.02 265.19 L488.05 265.03 L488.07 264.87 L488.1 264.71 L488.13 264.56 L488.16 264.4 L488.19 264.24 L488.23 264.07 L488.26 263.89 L488.29 263.69 L488.33 263.48 L488.36 263.24 L488.4 262.99 L488.43 262.72 L488.47 262.44 L488.51 262.14 L488.55 261.82 L488.59 261.49 L488.64 261.15 L488.68 260.79 L488.73 260.42 L488.77 260.03 L488.82 259.63 L488.87 259.22 L488.92 258.79 L488.97 258.35 L489.02 257.9 L489.08 257.44 L489.13 256.97 L489.19 256.49 L489.25 256 L489.31 255.49 L489.37 254.98 L489.43 254.46 L489.5 253.93 L489.56 253.39 L489.63 252.84 L489.7 252.29 L489.77 251.73 L489.85 251.16 L489.92 250.58 L490 250 L490.08 249.41 L490.16 248.81 L490.25 248.21 L490.33 247.61 L490.42 247 L490.51 246.39 L490.61 245.77 L490.71 245.15 L490.8 244.52 L490.91 243.9 L491.01 243.27 L491.12 242.64 L491.23 242 L491.34 241.37 L491.46 240.73 L491.57 240.1 L491.7 239.46 L491.82 238.83 L491.95 238.19 L492.08 237.55 L492.22 236.92 L492.36 236.29 L492.5 235.66 L492.65 235.03 L492.8 234.41 L492.95 233.78 L493.11 233.16 L493.28 232.55 L493.44 231.94 L493.62 231.33 L493.79 230.73 L493.97 230.13 L494.16 229.54 L494.35 228.96 L494.55 228.38 L494.75 227.8 L494.96 227.23 L495.17 226.67 L495.39 226.11 L495.61 225.55 L495.84 224.99 L496.08 224.43 L496.32 223.88 L496.57 223.32 L496.82 222.77 L497.09 222.21 L497.35 221.65 L497.63 221.09 L497.91 220.53 L498.21 219.96 L498.51 219.39 L498.81 218.81 L499.13 218.22 L499.45 217.64 L499.78 217.04 L500.13 216.45 L500.48 215.85 L500.84 215.24 L501.21 214.64 L501.58 214.03 L501.97 213.42 L502.37 212.81 L502.78 212.2 L503.21 211.59 L503.64 210.98 L504.08 210.38 L504.54 209.77 L505.01 209.18 L505.49 208.58 L505.98 207.99 L506.49 207.41 L507.01 206.83 L507.54 206.26 L508.09 205.69 L508.65 205.12 L509.23 204.56 L509.83 204 L510.44 203.44 L511.06 202.88 L511.7 202.32 L512.36 201.76 L513.04 201.2 L513.74 200.64 L514.45 200.08 L515.18 199.51 L515.94 198.94 L516.71 198.36 L517.5 197.78 L518.32 197.19 L519.15 196.6 L520.01 196 L520.89 195.39 L521.8 194.78 L522.73 194.16 L523.68 193.53 L524.66 192.89 L525.67 192.24 L526.7 191.58 L527.76 190.92 L528.85 190.24 L529.96 189.55 L531.11 188.85 L532.29 188.13 L533.5 187.4 L534.74 186.66 L536.01 185.91 L537.32 185.14 L538.67 184.36 L540.05 183.56 L541.46 182.75 L542.92 181.92 L544.41 181.07 L545.94 180.21 L547.52 179.33 L549.13 178.43 L550.79 177.51 L552.49 176.57 L554.24 175.61 L556.04 174.62 L557.88 173.62 L559.77 172.58 L561.72 171.52 L563.71 170.43 L565.76 169.3 L567.86 168.15 L570.02 166.96 L572.24 165.74 L574.52 164.48 L576.85 163.19 L579.25 161.87 L581.71 160.52 L584.24 159.13 L586.84 157.71 L589.51 156.26 L592.24 154.77 L595.05 153.26 L597.94 151.71 L600.9 150.14 L603.94 148.53 L607.06 146.9 L610.27 145.24 L613.56 143.54 L616.94 141.82 L620.41 140.07 L623.97 138.29 L627.63 136.49 L631.38 134.66 L635.24 132.8 L639.2 130.91 L643.26 129 L647.43 127.07 L651.72 125.1 L656.12 123.12 L660.63 121.1 L665.27 119.07 L670.03 117.01 L674.91 114.92 L679.93 112.82 L685.08 110.69 L690.37 108.53 L695.8 106.36 L701.38 104.16 L707.1 101.95 L712.98 99.71 L719.01 97.45 L725.21 95.17 L731.57 92.87 L738.1 90.55 L744.8 88.21 L751.69 85.85 L758.75 83.47 L766.01 81.08 L773.46 78.67 L781.11 76.23 L788.96 73.79 L797.02 71.32 L805.3 68.84 L813.8 66.34" fill="none" stroke="#0000ff" stroke-width="2" stroke-linejoin="round" />
<path d="M487.68 266.86 L487.7 266.6 L487.72 266.33 L487.74 266.07 L487.76 265.81 L487.78 265.54 L487.8 265.28 L487.83 265.01 L487.85 264.75 L487.87 264.49 L487.9 264.22 L487.92 263.95 L487.95 263.67 L487.98 263.38 L488 263.07 L488.03 262.76 L488.06 262.43 L488.09 262.09 L488.12 261.73 L488.15 261.37 L488.18 261 L488.22 260.62 L488.25 260.22 L488.29 259.82 L488.32 259.41 L488.36 258.99 L488.4 258.56 L488.43 258.12 L488.48 257.67 L488.52 257.21 L488.56 256.75 L488.6 256.28 L488.65 255.8 L488.69 255.31 L488.74 254.81 L488.79 254.31 L488.84 253.8 L488.89 253.29 L488.94 252.77 L489 252.24 L489.05 251.71 L489.11 251.17 L489.17 250.63 L489.23 250.08 L489.29 249.53 L489.36 248.97 L489.42 248.41 L489.49 247.84 L489.56 247.27 L489.63 246.7 L489.7 246.12 L489.78 245.55 L489.86 244.96 L489.94 244.38 L490.02 243.79 L490.1 243.2 L490.19 242.61 L490.28 242.02 L490.37 241.43 L490.47 240.83 L490.56 240.24 L490.66 239.64 L490.76 239.04 L490.87 238.45 L490.98 237.85 L491.09 237.25 L491.2 236.66 L491.32 236.06 L491.44 235.47 L491.57 234.87 L491.69 234.28 L491.82 233.69 L491.96 233.11 L492.1 232.52 L492.24 231.94 L492.39 231.36 L492.54 230.78 L492.69 230.21 L492.85 229.64 L493.01 229.07 L493.18 228.51 L493.35 227.95 L493.53 227.39 L493.71 226.84 L493.9 226.29 L494.09 225.74 L494.29 225.19 L494.5 224.64 L494.71 224.09 L494.92 223.55 L495.14 223 L495.37 222.45 L495.6 221.9 L495.84 221.35 L496.09 220.79 L496.34 220.24 L496.61 219.68 L496.87 219.12 L497.15 218.55 L497.43 217.98 L497.73 217.4 L498.03 216.82 L498.33 216.24 L498.65 215.66 L498.98 215.07 L499.31 214.49 L499.65 213.9 L500.01 213.31 L500.37 212.72 L500.74 212.13 L501.13 211.53 L501.52 210.94 L501.93 210.35 L502.35 209.77 L502.77 209.18 L503.21 208.59 L503.67 208.01 L504.13 207.43 L504.61 206.85 L505.1 206.28 L505.61 205.7 L506.13 205.14 L506.66 204.57 L507.21 204.01 L507.78 203.46 L508.36 202.9 L508.96 202.35 L509.57 201.8 L510.2 201.25 L510.85 200.7 L511.51 200.15 L512.2 199.6 L512.9 199.04 L513.63 198.49 L514.37 197.93 L515.13 197.37 L515.92 196.81 L516.73 196.24 L517.56 195.67 L518.41 195.09 L519.29 194.51 L520.19 193.92 L521.12 193.32 L522.07 192.72 L523.05 192.11 L524.06 191.49 L525.1 190.86 L526.16 190.22 L527.25 189.58 L528.38 188.92 L529.54 188.26 L530.72 187.58 L531.94 186.9 L533.2 186.22 L534.49 185.52 L535.82 184.82 L537.18 184.11 L538.58 183.4 L540.02 182.68 L541.51 181.96 L543.03 181.24 L544.59 180.51 L546.2 179.77 L547.86 179.04 L549.56 178.3 L551.31 177.56 L553.1 176.82 L554.95 176.07 L556.85 175.32 L558.8 174.56 L560.8 173.8 L562.87 173.03 L564.99 172.26 L567.16 171.48 L569.4 170.69 L571.71 169.89 L574.07 169.09 L576.51 168.27 L579.01 167.45 L581.58 166.61 L584.22 165.76 L586.93 164.9 L589.73 164.02 L592.6 163.13 L595.55 162.22 L598.58 161.3 L601.7 160.36 L604.9 159.4 L608.19 158.43 L611.58 157.43 L615.06 156.42 L618.64 155.38 L622.32 154.32 L626.1 153.25 L629.98 152.15 L633.98 151.03 L638.08 149.88 L642.3 148.72 L646.64 147.53 L651.1 146.31 L655.69 145.08 L660.4 143.81 L665.24 142.53 L670.22 141.22 L675.34 139.88 L680.6 138.52 L686.01 137.13 L691.57 135.71 L697.29 134.27 L703.16 132.8 L709.2 131.3 L715.41 129.77 L721.79 128.21 L728.35 126.63 L735.09 125.01 L742.02 123.36 L749.15 121.69 L756.47 119.98 L764 118.24 L771.74 116.47 L779.69 114.67 L787.87 112.84 L796.28 110.97 L804.92 109.07 L813.8 107.13" fill="none" stroke="#ff0000" stroke-width="2" stroke-linejoin="round" />
</g>
<g clip-path="url(#cpc)">
<path d="M189.95 514 L190.5 519.5 L199.4 518.2 L200.7 516.1 L201.5 517.4 L202.6 513.9 L203.6 517.4 L208.7 517.4 L213.7 515.7 L215.4 514.6 L216.3 515.5 L217.08 515.36 L217.85 515.23 L218.63 515.1 L219.41 514.96 L220.18 514.83 L220.96 514.7 L221.74 514.58 L222.51 514.45 L223.29 514.32 L224.07 514.2 L224.84 514.07 L225.62 513.95 L226.4 513.83 L227.17 513.71 L227.95 513.59 L228.73 513.47 L229.5 513.36 L230.28 513.25 L231.06 513.14 L231.83 513.03 L232.61 512.92 L233.38 512.81 L234.16 512.71 L234.94 512.61 L235.71 512.51 L236.49 512.41 L237.27 512.31 L238.04 512.22 L238.82 512.12 L239.6 512.03 L240.37 511.94 L241.15 511.86 L241.93 511.78 L242.7 511.7 L243.48 511.62 L244.26 511.54 L245.03 511.46 L245.81 511.38 L246.59 511.3 L247.36 511.21 L248.14 511.13 L248.92 511.04 L249.69 510.94 L250.47 510.84 L251.25 510.73 L252.02 510.63 L252.8 510.51 L253.58 510.4 L254.35 510.28 L255.13 510.17 L255.91 510.04 L256.68 509.92 L257.46 509.79 L258.24 509.66 L259.01 509.53 L259.79 509.4 L260.57 509.27 L261.34 509.13 L262.12 508.99 L262.9 508.85 L263.67 508.71 L264.45 508.57 L265.23 508.42 L266 508.28 L266.78 508.13 L267.55 507.98 L268.33 507.83 L269.11 507.69 L269.88 507.54 L270.66 507.39 L271.44 507.23 L272.21 507.08 L272.99 506.93 L273.77 506.78 L274.54 506.63 L275.32 506.48 L276.1 506.33 L276.87 506.18 L277.65 506.02 L278.43 505.87 L279.2 505.73 L279.98 505.58 L280.76 505.43 L281.53 505.28 L282.31 505.14 L283.09 504.99 L283.86 504.85 L284.64 504.71 L285.42 504.56 L286.19 504.42 L286.97 504.28 L287.75 504.14 L288.52 504 L289.3 503.86 L290.08 503.72 L290.85 503.57 L291.63 503.43 L292.41 503.28 L293.18 503.13 L293.96 502.98 L294.74 502.83 L295.51 502.67 L296.29 502.51 L297.07 502.35 L297.84 502.19 L298.62 502.01 L299.39 501.84 L300.17 501.66 L300.95 501.48 L301.72 501.28 L302.5 501.09 L303.28 500.89 L304.05 500.68 L304.83 500.48 L305.61 500.26 L306.38 500.04 L307.16 499.82 L307.94 499.6 L308.71 499.37 L309.49 499.14 L310.27 498.9 L311.04 498.67 L311.82 498.43 L312.6 498.19 L313.37 497.94 L314.15 497.7 L314.93 497.45 L315.7 497.2 L316.48 496.95 L317.26 496.7 L318.03 496.45 L318.81 496.2 L319.59 495.95 L320.36 495.7 L321.14 495.45 L321.92 495.19 L322.69 494.94 L323.47 494.69 L324.25 494.44 L325.02 494.2 L325.8 493.95 L326.58 493.7 L327.35 493.45 L328.13 493.19 L328.91 492.94 L329.68 492.69 L330.46 492.43 L331.24 492.17 L332.01 491.91 L332.79 491.65 L333.56 491.39 L334.34 491.13 L335.12 490.87 L335.89 490.6 L336.67 490.34 L337.45 490.07 L338.22 489.81 L339 489.54 L339.78 489.27 L340.55 489 L341.33 488.73 L342.11 488.47 L342.88 488.19 L343.66 487.92 L344.44 487.65 L345.21 487.38 L345.99 487.11 L346.77 486.84 L347.54 486.56 L348.32 486.29 L349.1 486.02 L349.87 485.74 L350.65 485.47 L351.43 485.2 L352.2 484.92 L352.98 484.65 L353.76 484.37 L354.53 484.09 L355.31 483.82 L356.09 483.54 L356.86 483.26 L357.64 482.98 L358.42 482.7 L359.19 482.42 L359.97 482.14 L360.75 481.86 L361.52 481.58 L362.3 481.29 L363.08 481.01 L363.85 480.73 L364.63 480.44 L365.41 480.16 L366.18 479.87 L366.96 479.58 L367.73 479.29 L368.51 479 L369.29 478.71 L370.06 478.42 L370.84 478.13 L371.62 477.84 L372.39 477.55 L373.17 477.25 L373.95 476.96 L374.72 476.66 L375.5 476.37 L376.28 476.07 L377.05 475.77 L377.83 475.47 L378.61 475.18 L379.38 474.88 L380.16 474.58 L380.94 474.28 L381.71 473.98 L382.49 473.67 L383.27 473.37 L384.04 473.07 L384.82 472.76 L385.6 472.46 L386.37 472.15 L387.15 471.85 L387.93 471.54 L388.7 471.23 L389.48 470.92 L390.26 470.61 L391.03 470.29 L391.81 469.98 L392.59 469.67 L393.36 469.35 L394.14 469.03 L394.92 468.72 L395.69 468.4 L396.47 468.08 L397.25 467.75 L398.02 467.43 L398.8 467.11 L399.57 466.78 L400.35 466.45 L401.13 466.12 L401.9 465.79 L402.68 465.45 L403.46 465.11 L404.23 464.78 L405.01 464.43 L405.79 464.09 L406.56 463.74 L407.34 463.4 L408.12 463.05 L408.89 462.7 L409.67 462.35 L410.45 461.99 L411.22 461.64 L412 461.29 L412.78 460.93 L413.55 460.58 L414.33 460.22 L415.11 459.87 L415.88 459.51 L416.66 459.15 L417.44 458.8 L418.21 458.44 L418.99 458.09 L419.77 457.73 L420.54 457.38 L421.32 457.02 L422.1 456.67 L422.87 456.32 L423.65 455.97 L424.43 455.62 L425.2 455.28 L425.98 454.93 L426.76 454.58 L427.53 454.23 L428.31 453.89 L429.09 453.54 L429.86 453.19 L430.64 452.85 L431.42 452.5 L432.19 452.15 L432.97 451.81 L433.74 451.46 L434.52 451.11 L435.3 450.77 L436.07 450.42 L436.85 450.08 L437.63 449.73 L438.4 449.38 L439.18 449.04 L439.96 448.69 L440.73 448.35 L441.51 448 L442.29 447.66 L443.06 447.31 L443.84 446.97 L444.62 446.62 L445.39 446.28 L446.17 445.93 L446.95 445.59 L447.72 445.24 L448.5 444.9" fill="none" stroke="#0000ff" stroke-width="2" stroke-linejoin="round" />
<path d="M189.3 512.74 L189.8 512.83 L190.3 512.45 L190.8 512.59 L191.3 512.85 L191.8 512.81 L192.3 512.15 L192.8 512.17 L193.3 512 L193.79 512.26 L194.29 511.88 L194.79 512.18 L195.29 512.28 L195.79 511.94 L196.29 512.2 L196.79 512.08 L197.29 511.58 L197.79 511.95 L198.29 511.65 L198.79 511.71 L199.29 511.54 L199.79 511.8 L200.29 511.53 L200.79 511.23 L201.29 511.47 L201.79 511.6 L202.28 511.15 L202.78 511.02 L203.28 511.1 L203.78 511.48 L204.28 511.46 L204.78 511.18 L205.28 511.32 L205.78 511.25 L206.28 510.84 L206.78 510.58 L207.28 511.01 L207.78 510.91 L208.28 510.73 L208.78 510.6 L209.28 510.72 L209.78 510.75 L210.28 510.57 L210.78 510.57 L211.27 510.68 L211.77 510.98 L212.27 510.74 L212.77 510.48 L213.27 510.45 L213.77 510.56 L214.27 510.33 L214.77 510.3 L215.27 510.52 L215.77 510.14 L216.27 510.43 L216.77 510.29 L217.27 510.54 L217.77 510.53 L218.27 510.45 L218.77 510.41 L219.27 510.12 L219.76 510.32 L220.26 510.02 L220.76 510.17 L221.26 509.93 L221.76 509.99 L222.26 509.64 L222.76 509.75 L223.26 510.29 L223.76 509.66 L224.26 509.98 L224.76 509.91 L225.26 509.92 L225.76 509.68 L226.26 509.73 L226.76 509.26 L227.26 509.23 L227.76 509.28 L228.25 509.2 L228.75 509.12 L229.25 509.1 L229.75 509.4 L230.25 509.07 L230.75 509.65 L231.25 509.4 L231.75 509.26 L232.25 509.36 L232.75 508.97 L233.25 509.47 L233.75 509.38 L234.25 509.26 L234.75 509.03 L235.25 509.29 L235.75 509.19 L236.25 509.09 L236.75 509.27 L237.24 509.01 L237.74 508.77 L238.24 508.89 L238.74 508.57 L239.24 508.54 L239.74 508.93 L240.24 508.95 L240.74 509.06 L241.24 508.93 L241.74 508.65 L242.24 508.25 L242.74 508.54 L243.24 508.85 L243.74 508.71 L244.24 508.43 L244.74 508.37 L245.24 508.14 L245.73 508.07 L246.23 507.95 L246.73 508.57 L247.23 508.33 L247.73 507.89 L248.23 508.07 L248.73 507.74 L249.23 507.83 L249.73 508.21 L250.23 508.1 L250.73 507.92 L251.23 507.72 L251.73 507.98 L252.23 508.18 L252.73 507.73 L253.23 507.39 L253.73 507.34 L254.22 507.32 L254.72 507.98 L255.22 507.6 L255.72 507.79 L256.22 507.22 L256.72 507.25 L257.22 507.55 L257.72 507.67 L258.22 507.18 L258.72 506.91 L259.22 507.51 L259.72 507.01 L260.22 507.32 L260.72 506.81 L261.22 507.19 L261.72 507.27 L262.22 507.13 L262.72 506.79 L263.21 507.04 L263.71 506.52 L264.21 506.61 L264.71 506.65 L265.21 506.97 L265.71 506.35 L266.21 506.88 L266.71 506.77 L267.21 506.86 L267.71 506.33 L268.21 506.15 L268.71 506.13 L269.21 506.56 L269.71 506.62 L270.21 506.36 L270.71 506.14 L271.21 505.93 L271.7 506.32 L272.2 506.3 L272.7 505.63 L273.2 505.68 L273.7 506.13 L274.2 506.09 L274.7 505.61 L275.2 505.54 L275.7 505.61 L276.2 505.65 L276.7 505.24 L277.2 505.79 L277.7 505.5 L278.2 505.64 L278.7 505.16 L279.2 505.7 L279.7 505.48 L280.19 505.1 L280.69 505.54 L281.19 505.29 L281.69 505.35 L282.19 504.67 L282.69 504.63 L283.19 505.13 L283.69 504.73 L284.19 504.84 L284.69 504.51 L285.19 505.11 L285.69 504.68 L286.19 504.89 L286.69 504.23 L287.19 504.5 L287.69 504.12 L288.19 504.72 L288.68 504.32 L289.18 503.96 L289.68 503.91 L290.18 504.23 L290.68 503.81 L291.18 503.84 L291.68 503.99 L292.18 503.98 L292.68 504 L293.18 503.98 L293.68 503.73 L294.18 503.87 L294.68 503.45 L295.18 503.49 L295.68 503.86 L296.18 503.29 L296.68 503.3 L297.18 503.26 L297.67 503.4 L298.17 502.97 L298.67 502.95 L299.17 503.25 L299.67 502.96 L300.17 503.33 L300.67 503.38 L301.17 503.16 L301.67 503.21 L302.17 502.92 L302.67 502.6 L303.17 502.87 L303.67 502.77 L304.17 502.91 L304.67 502.5 L305.17 502.53 L305.67 502.96 L306.16 502.48 L306.66 502.55 L307.16 502.93 L307.66 502.36 L308.16 502.22 L308.66 502.62 L309.16 502.47 L309.66 502.47 L310.16 501.97 L310.66 502.23 L311.16 501.86 L311.66 502.02 L312.16 502.35 L312.66 501.79 L313.16 501.94 L313.66 502.45 L314.16 502.4 L314.65 501.97 L315.15 502.13 L315.65 502.01 L316.15 501.84 L316.65 502.12 L317.15 501.53 L317.65 502.02 L318.15 501.35 L318.65 501.97 L319.15 501.78 L319.65 501.55 L320.15 501.7 L320.65 501.49 L321.15 501.7 L321.65 501.13 L322.15 501.41 L322.65 501.66 L323.15 501.67 L323.64 501.06 L324.14 501.05 L324.64 501.53 L325.14 501.04 L325.64 500.77 L326.14 501.26 L326.64 500.98 L327.14 501.2 L327.64 500.95 L328.14 500.93 L328.64 500.83 L329.14 500.69 L329.64 501.14 L330.14 500.92 L330.64 500.98 L331.14 501.03 L331.64 500.47 L332.13 500.97 L332.63 500.89 L333.13 500.57 L333.63 500.58 L334.13 500.18 L334.63 500.67 L335.13 500.16 L335.63 500.41 L336.13 500.05 L336.63 499.97 L337.13 500.36 L337.63 500.23 L338.13 500.34 L338.63 500.39 L339.13 500.51 L339.63 499.75 L340.13 500.15 L340.62 500.07 L341.12 500.09 L341.62 499.97 L342.12 499.94 L342.62 500.15 L343.12 499.77 L343.62 499.8 L344.12 499.88 L344.62 499.36 L345.12 499.59 L345.62 499.28 L346.12 499.27 L346.62 499.12 L347.12 499.24 L347.62 499.2 L348.12 499.39 L348.62 499.39 L349.12 499.54 L349.61 499.23 L350.11 499.5 L350.61 499.06 L351.11 499.28 L351.61 499.08 L352.11 499.08 L352.61 498.75 L353.11 499.22 L353.61 499.03 L354.11 498.48 L354.61 498.73 L355.11 499.04 L355.61 498.22 L356.11 498.37 L356.61 498.66 L357.11 498.03 L357.61 498.54 L358.1 498.33 L358.6 498.4 L359.1 498.19 L359.6 498.43 L360.1 497.89 L360.6 498.01 L361.1 497.52 L361.6 497.86 L362.1 497.69 L362.6 498.07 L363.1 497.97 L363.6 497.26 L364.1 497.11 L364.6 497.11 L365.1 497.09 L365.6 497.45 L366.1 497.24 L366.59 497.16 L367.09 497.03 L367.59 496.6 L368.09 496.84 L368.59 497.25 L369.09 497.04 L369.59 496.77 L370.09 496.4 L370.59 496.91 L371.09 496.45 L371.59 496.54 L372.09 496.13 L372.59 496.17 L373.09 496.11 L373.59 496.08 L374.09 495.72 L374.59 496.16 L375.08 495.7 L375.58 495.99 L376.08 495.93 L376.58 495.93 L377.08 495.54 L377.58 495.47 L378.08 495.78 L378.58 495.42 L379.08 495.16 L379.58 495.7 L380.08 494.92 L380.58 495.55 L381.08 495.01 L381.58 495.02 L382.08 495.43 L382.58 494.93 L383.08 495.09 L383.58 494.78 L384.07 495.11 L384.57 494.89 L385.07 494.63 L385.57 494.25 L386.07 494.41 L386.57 494.44 L387.07 494.21 L387.57 494.34 L388.07 494.01 L388.57 494.17 L389.07 494.13 L389.57 494.18 L390.07 494.17 L390.57 494.08 L391.07 493.77 L391.57 493.73 L392.07 493.99 L392.56 493.51 L393.06 493.74 L393.56 493.87 L394.06 493.74 L394.56 493.37 L395.06 493.1 L395.56 493.28 L396.06 493.26 L396.56 493.05 L397.06 492.83 L397.56 492.85 L398.06 492.47 L398.56 492.56 L399.06 492.36 L399.56 492.7 L400.06 492.86 L400.56 492.14 L401.05 491.95 L401.55 492.44 L402.05 492.05 L402.55 492.09 L403.05 491.64 L403.55 491.65 L404.05 491.98 L404.55 491.82 L405.05 491.93 L405.55 491.93 L406.05 491.36 L406.55 491.48 L407.05 491.25 L407.55 491.2 L408.05 491.02 L408.55 491.4 L409.05 491.02 L409.55 490.54 L410.04 490.89 L410.54 491.01 L411.04 490.86 L411.54 490.49 L412.04 489.96 L412.54 490.5 L413.04 490.51 L413.54 490.25 L414.04 489.91 L414.54 489.78 L415.04 489.97 L415.54 489.36 L416.04 489.81 L416.54 489.48 L417.04 489.04 L417.54 489.54 L418.04 489.1 L418.53 488.78 L419.03 488.73 L419.53 489.18 L420.03 488.54 L420.53 488.93 L421.03 488.85 L421.53 488.18 L422.03 488.36 L422.53 488.54 L423.03 488.21 L423.53 488.42 L424.03 487.93 L424.53 488.04 L425.03 487.61 L425.53 488.02 L426.03 487.92 L426.53 487.61 L427.02 487.32 L427.52 487.24 L428.02 487.34 L428.52 486.88 L429.02 487.09 L429.52 486.82 L430.02 486.76 L430.52 486.65 L431.02 486.96 L431.52 486.34 L432.02 486.29 L432.52 486.14 L433.02 485.92 L433.52 486.16 L434.02 486.39 L434.52 486.35 L435.02 485.92 L435.52 485.77 L436.01 486.03 L436.51 485.66 L437.01 485.58 L437.51 485.56 L438.01 485.01 L438.51 485.52 L439.01 484.84 L439.51 485.08 L440.01 485.3 L440.51 484.9 L441.01 484.64 L441.51 484.85 L442.01 484.89 L442.51 484.57 L443.01 484.02 L443.51 484.58 L444.01 483.8 L444.5 484.23 L445 484.31 L445.5 483.61 L446 483.81 L446.5 483.86 L447 483.33 L447.5 483.29 L448 483.05 L448.5 483.03" fill="none" stroke="#ff0000" stroke-width="2" stroke-linejoin="round" />
</g>
<g clip-path="url(#cpd)">
<path d="M532.29 521.08 L533.26 520.77 L534.23 520.46 L535.21 520.16 L536.19 519.87 L537.17 519.6 L538.15 519.33 L539.14 519.08 L540.13 518.83 L541.12 518.59 L542.12 518.35 L543.12 518.13 L544.12 517.91 L545.12 517.7 L546.12 517.49 L547.13 517.28 L548.13 517.09 L549.14 516.89 L550.15 516.7 L551.16 516.51 L552.16 516.33 L553.17 516.14 L554.18 515.96 L555.2 515.78 L556.21 515.59 L557.22 515.41 L558.23 515.23 L559.24 515.04 L560.25 514.86 L561.25 514.67 L562.26 514.47 L563.27 514.28 L564.27 514.08 L565.27 513.88 L566.28 513.67 L567.28 513.45 L568.27 513.23 L569.27 513.01 L570.26 512.77 L571.25 512.53 L572.24 512.28 L573.23 512.02 L574.21 511.76 L575.19 511.48 L576.16 511.19 L577.13 510.89 L578.1 510.58 L579.07 510.26 L580.03 509.93 L580.99 509.59 L581.94 509.24 L582.9 508.89 L583.85 508.53 L584.8 508.16 L585.75 507.8 L586.7 507.43 L587.65 507.06 L588.6 506.69 L589.55 506.32 L590.51 505.96 L591.46 505.6 L592.41 505.23 L593.37 504.87 L594.32 504.51 L595.28 504.15 L596.24 503.8 L597.19 503.44 L598.15 503.08 L599.11 502.73 L600.06 502.37 L601.02 502.01 L601.98 501.66 L602.94 501.3 L603.89 500.94 L604.85 500.59 L605.81 500.23 L606.77 499.87 L607.72 499.51 L608.68 499.16 L609.64 498.8 L612.5 497.71 L615.36 496.61 L618.22 495.49 L621.06 494.35 L623.9 493.19 L626.72 492 L629.54 490.79 L632.33 489.54 L635.12 488.26 L637.89 486.96 L640.65 485.63 L643.4 484.27 L646.14 482.9 L648.86 481.5 L651.58 480.09 L654.29 478.65 L656.99 477.21 L659.68 475.74 L662.37 474.27 L665.05 472.78 L667.72 471.28 L670.38 469.77 L673.04 468.24 L675.69 466.71 L678.33 465.16 L680.96 463.6 L683.59 462.03 L686.21 460.45 L688.83 458.86 L691.44 457.25 L694.04 455.64 L696.64 454.02 L699.23 452.38 L701.81 450.74 L704.39 449.09 L706.97 447.43 L709.53 445.75 L712.1 444.07 L714.65 442.39 L717.21 440.69 L719.75 438.98 L722.29 437.27 L724.83 435.55 L727.36 433.82 L729.89 432.09 L732.41 430.34 L734.93 428.59 L737.44 426.84 L739.95 425.08 L742.45 423.31 L744.95 421.53 L747.45 419.75 L749.94 417.96 L752.43 416.17 L754.91 414.38 L757.4 412.57 L759.87 410.77 L762.35 408.96 L764.82 407.14 L767.29 405.32 L769.75 403.5 L772.22 401.67 L774.67 399.84 L777.13 398.01 L779.59 396.17 L782.04 394.33 L784.49 392.49 L786.93 390.65 L789.38 388.8 L791.82 386.95 L794.26 385.1 L796.7 383.25 L799.14 381.4 L801.57 379.54 L804.01 377.69 L806.44 375.83 L808.87 373.98 L811.3 372.12 L813.73 370.27" fill="none" stroke="#0000ff" stroke-width="2" stroke-linejoin="round" />
<path d="M532 516.47 L532.93 516.32 L533.85 516.17 L534.78 516.02 L535.7 515.88 L536.63 515.73 L537.55 515.58 L538.48 515.44 L539.41 515.29 L540.33 515.15 L541.26 515 L542.19 514.86 L543.12 514.71 L544.04 514.57 L544.97 514.42 L545.9 514.28 L546.83 514.13 L547.76 513.99 L548.69 513.84 L549.61 513.7 L550.54 513.55 L551.47 513.41 L552.4 513.26 L553.33 513.12 L554.26 512.98 L555.19 512.83 L556.12 512.69 L557.05 512.54 L557.98 512.4 L558.91 512.25 L559.84 512.11 L560.77 511.97 L561.7 511.82 L562.63 511.68 L563.56 511.53 L564.49 511.39 L565.42 511.24 L566.35 511.1 L567.28 510.95 L568.21 510.81 L569.14 510.66 L570.07 510.51 L571 510.37 L571.93 510.22 L572.86 510.08 L573.8 509.93 L574.73 509.78 L575.66 509.63 L576.59 509.49 L577.52 509.34 L578.45 509.19 L579.38 509.04 L580.31 508.89 L581.24 508.74 L582.17 508.59 L583.11 508.44 L584.04 508.29 L584.97 508.14 L585.9 507.99 L586.83 507.84 L587.76 507.69 L588.69 507.54 L589.62 507.38 L590.55 507.23 L591.48 507.08 L592.41 506.92 L593.35 506.77 L594.28 506.61 L595.21 506.46 L596.14 506.3 L597.07 506.15 L598 505.99 L598.93 505.83 L599.86 505.67 L600.79 505.51 L601.72 505.35 L602.65 505.19 L603.58 505.03 L604.51 504.87 L605.44 504.71 L608.22 504.22 L611.01 503.72 L613.8 503.22 L616.58 502.71 L619.36 502.19 L622.14 501.67 L624.92 501.14 L627.7 500.6 L630.47 500.05 L633.24 499.49 L636.02 498.92 L638.78 498.34 L641.55 497.76 L644.31 497.16 L647.07 496.55 L649.83 495.94 L652.58 495.31 L655.33 494.67 L658.08 494.02 L660.83 493.35 L663.57 492.67 L666.3 491.99 L669.04 491.28 L671.77 490.57 L674.49 489.84 L677.22 489.09 L679.93 488.34 L682.65 487.56 L685.36 486.78 L688.06 485.97 L690.76 485.16 L693.46 484.32 L696.15 483.47 L698.83 482.61 L701.51 481.73 L704.19 480.83 L706.86 479.92 L709.52 479 L712.18 478.05 L714.84 477.1 L717.49 476.12 L720.13 475.14 L722.77 474.13 L725.4 473.12 L728.03 472.08 L730.65 471.04 L733.26 469.97 L735.87 468.89 L738.48 467.8 L741.08 466.69 L743.67 465.57 L746.25 464.43 L748.83 463.28 L751.41 462.11 L753.97 460.93 L756.53 459.73 L759.09 458.52 L761.63 457.3 L764.17 456.06 L766.71 454.8 L769.23 453.53 L771.75 452.25 L774.27 450.95 L776.77 449.64 L779.27 448.31 L781.76 446.97 L784.25 445.61 L786.73 444.24 L789.2 442.86 L791.66 441.46 L794.11 440.04 L796.56 438.62 L799 437.18 L801.43 435.72 L803.86 434.25 L806.27 432.77 L808.68 431.27 L811.08 429.76 L813.47 428.23" fill="none" stroke="#ff0000" stroke-width="2" stroke-linejoin="round" />
<line x1="728.3" y1="439.8" x2="735.9" y2="433.6" stroke="#000" stroke-width="2" />
<line x1="744.2" y1="426.8" x2="757" y2="416.7" stroke="#000" stroke-width="2" />
<line x1="764.7" y1="409.7" x2="776" y2="400.7" stroke="#000" stroke-width="2" />
<line x1="783.7" y1="394.1" x2="792.1" y2="387.5" stroke="#000" stroke-width="2" />
<line x1="798.9" y1="382" x2="806.5" y2="375.9" stroke="#000" stroke-width="2" />
<line x1="754.9" y1="476.5" x2="763.2" y2="470.3" stroke="#000" stroke-width="2" />
<line x1="771.2" y1="463.5" x2="782.5" y2="454.5" stroke="#000" stroke-width="2" />
<line x1="790.1" y1="448" x2="798.8" y2="441" stroke="#000" stroke-width="2" />
<line x1="805.3" y1="435.2" x2="812.9" y2="429.3" stroke="#000" stroke-width="2" />
</g>
<line x1="132.2" y1="68.1" x2="184.4" y2="68.1" stroke="#0000ff" stroke-width="2" />
<line x1="132.2" y1="94.25" x2="184.4" y2="94.25" stroke="#ff0000" stroke-width="2" />
<g style="filter:grayscale(1)" stroke="#000" stroke-width="0.3">
<text x="189.7" y="75.8" font-size="21.4" text-anchor="start" >METTS</text>
<text x="189.7" y="101.7" font-size="21.4" text-anchor="start" >SYMETTS</text>
<text x="280.7" y="25" font-size="25" text-anchor="middle" >T = 4.125 K</text>
<text x="650.5" y="24" font-size="25" text-anchor="middle" >T = 8.25 K</text>
<text x="428" y="256" font-size="21.4" text-anchor="middle" >(a)</text>
<text x="795" y="256" font-size="21.4" text-anchor="middle" >(b)</text>
<text x="429.3" y="535" font-size="21.4" text-anchor="middle" >(c)</text>
<text x="795.5" y="535" font-size="21.4" text-anchor="middle" >(d)</text>
<text x="112.55" y="290.6" font-size="21.4" text-anchor="middle" >0</text>
<text x="486.6" y="289.6" font-size="21.4" text-anchor="middle" >0</text>
<text x="179.65" y="290.6" font-size="21.4" text-anchor="middle" >10</text>
<text x="551.98" y="289.6" font-size="21.4" text-anchor="middle" >10</text>
<text x="246.75" y="290.6" font-size="21.4" text-anchor="middle" >20</text>
<text x="617.36" y="289.6" font-size="21.4" text-anchor="middle" >20</text>
<text x="313.85" y="290.6" font-size="21.4" text-anchor="middle" >30</text>
<text x="682.74" y="289.6" font-size="21.4" text-anchor="middle" >30</text>
<text x="380.95" y="290.6" font-size="21.4" text-anchor="middle" >40</text>
<text x="748.12" y="289.6" font-size="21.4" text-anchor="middle" >40</text>
<text x="448.05" y="290.6" font-size="21.4" text-anchor="middle" >50</text>
<text x="813.5" y="289.6" font-size="21.4" text-anchor="middle" >50</text>
<text x="67.7" y="51.1" text-anchor="start"><tspan font-size="21.4">10</tspan><tspan font-size="14.6" dy="-13.4" dx="-0.3">2</tspan></text>
<text x="67.7" y="95.54" text-anchor="start"><tspan font-size="21.4">10</tspan><tspan font-size="14.6" dy="-13.4" dx="-0.3">1</tspan></text>
<text x="67.7" y="139.98" text-anchor="start"><tspan font-size="21.4">10</tspan><tspan font-size="14.6" dy="-13.4" dx="-0.3">0</tspan></text>
<text x="67.7" y="184.42" text-anchor="start"><tspan font-size="21.4">10</tspan><tspan font-size="14.6" dy="-13.4" dx="0.4">−1</tspan></text>
<text x="67.7" y="228.86" text-anchor="start"><tspan font-size="21.4">10</tspan><tspan font-size="14.6" dy="-13.4" dx="0.4">−2</tspan></text>
<text x="67.7" y="273.3" text-anchor="start"><tspan font-size="21.4">10</tspan><tspan font-size="14.6" dy="-13.4" dx="0.4">−3</tspan></text>
<text x="69" y="330.7" text-anchor="start"><tspan font-size="21.4">10</tspan><tspan font-size="14.6" dy="-13.4" dx="-0.3">0</tspan></text>
<text x="69" y="386.2" text-anchor="start"><tspan font-size="21.4">10</tspan><tspan font-size="14.6" dy="-13.4" dx="0.4">−1</tspan></text>
<text x="69" y="441.7" text-anchor="start"><tspan font-size="21.4">10</tspan><tspan font-size="14.6" dy="-13.4" dx="0.4">−2</tspan></text>
<text x="69" y="497.2" text-anchor="start"><tspan font-size="21.4">10</tspan><tspan font-size="14.6" dy="-13.4" dx="0.4">−3</tspan></text>
<text x="69" y="552.7" text-anchor="start"><tspan font-size="21.4">10</tspan><tspan font-size="14.6" dy="-13.4" dx="0.4">−4</tspan></text>
<text x="98.6" y="576.5" text-anchor="start"><tspan font-size="21.4">10</tspan><tspan font-size="14.6" dy="-13.4" dx="0.4">1</tspan></text>
<text x="382.1" y="576.5" text-anchor="start"><tspan font-size="21.4">10</tspan><tspan font-size="14.6" dy="-13.4" dx="0.4">2</tspan></text>
<text x="471" y="576.5" text-anchor="start"><tspan font-size="21.4">10</tspan><tspan font-size="14.6" dy="-13.4" dx="0.4">1</tspan></text>
<text x="663" y="576.5" text-anchor="start"><tspan font-size="21.4">10</tspan><tspan font-size="14.6" dy="-13.4" dx="0.4">2</tspan></text>
<text x="262.2" y="308"><tspan font-size="25">t J</tspan><tspan font-size="19.3" dy="12.4">2</tspan></text>
<text x="631.4" y="306.6"><tspan font-size="25">t J</tspan><tspan font-size="19.3" dy="12.4">2</tspan></text>
<text x="272.2" y="596" font-size="25" text-anchor="start" >D</text>
<line x1="272.8" y1="573.1" x2="289.1" y2="573.1" stroke="#000" stroke-width="1.9" />
<text x="640.8" y="596" font-size="25" text-anchor="start" >D</text>
<line x1="641.4" y1="573.1" x2="657.7" y2="573.1" stroke="#000" stroke-width="1.9" />
<g transform="translate(43.2 195.0) rotate(-90)"><text x="0" y="0"><tspan font-size="25">t</tspan><tspan font-size="19.3" dy="12.4">CPU</tspan><tspan font-size="25" dy="-12.4"> [h]</tspan></text><line x1="-3.5" y1="-22.2" x2="8.1" y2="-22.2" stroke="#000" stroke-width="1.9"/></g>
<g transform="translate(45.4 552.7) rotate(-90)"><text x="0" y="0"><tspan font-size="25">t</tspan><tspan font-size="19.3" dy="12.4">CPU</tspan><tspan font-size="25" dy="-12.4" dx="0.5">(t+τ)</tspan><tspan font-size="25" dy="0.7" dx="0.8"> − </tspan><tspan font-size="25" dy="-0.7">t</tspan><tspan font-size="19.3" dy="12.4">CPU</tspan><tspan font-size="25" dy="-12.4">(t)  [h]</tspan></text><line x1="-1.8" y1="-21.3" x2="10.5" y2="-21.3" stroke="#000" stroke-width="1.9"/><line x1="123.3" y1="-20.1" x2="135.2" y2="-20.1" stroke="#000" stroke-width="1.9"/></g>
</g>
</svg>
</body></html>
